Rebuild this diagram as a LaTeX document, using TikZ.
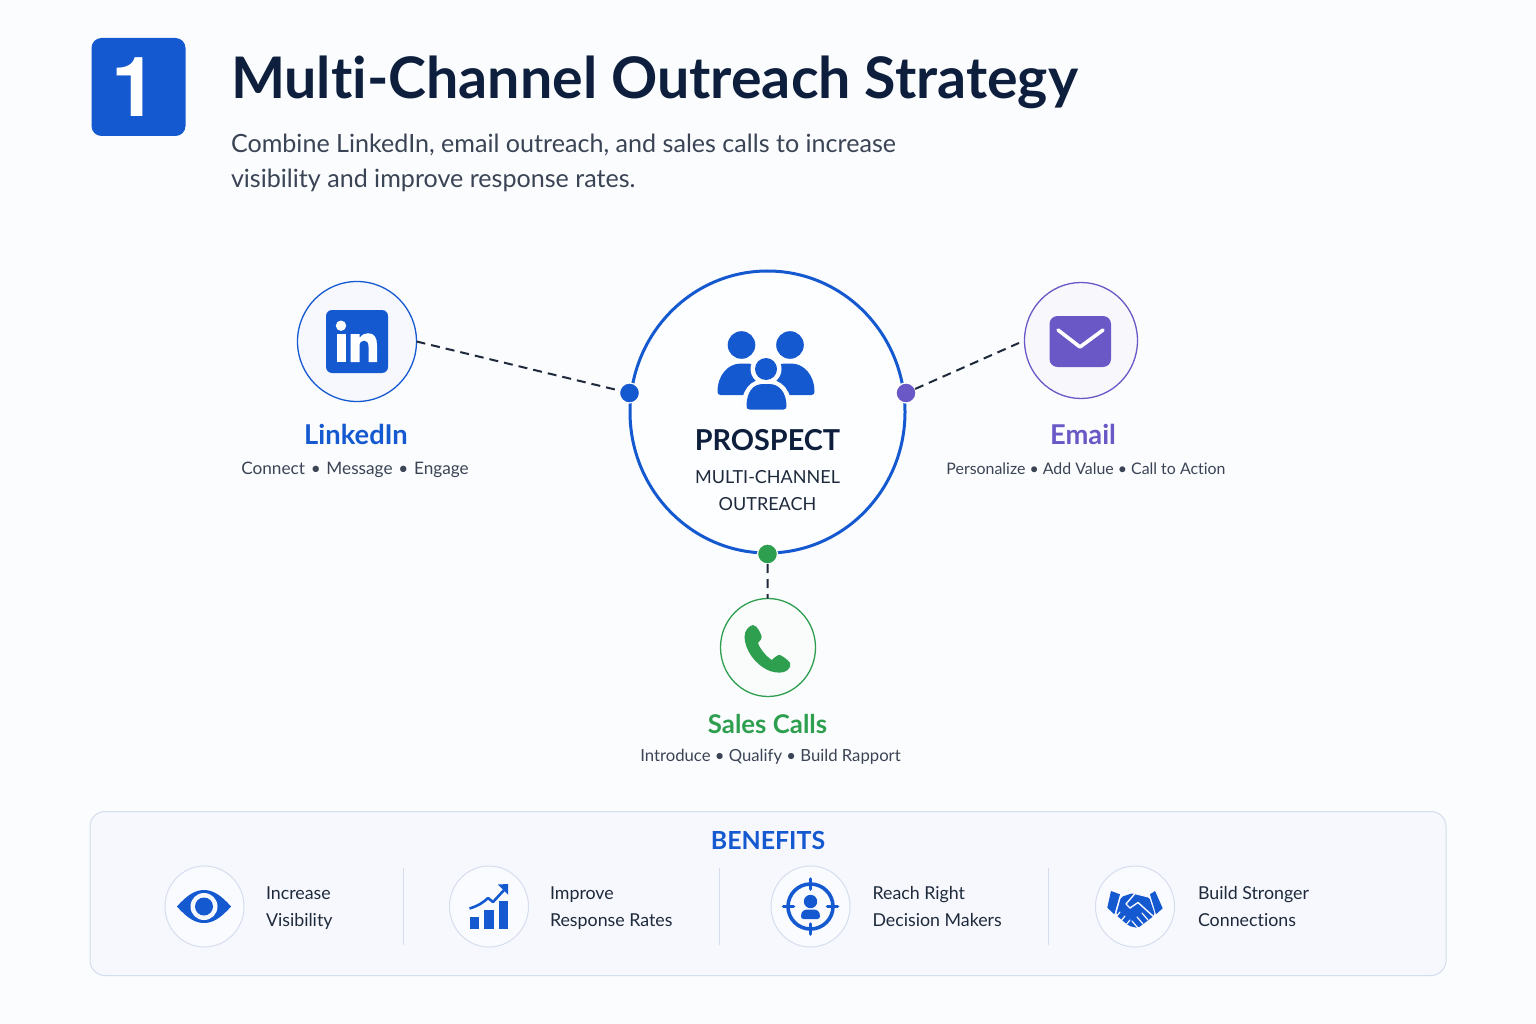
\documentclass[tikz,border=0pt]{standalone}
\usepackage{fontspec}
\setmainfont[Ligatures={NoCommon,TeX}]{Lato}
\newfontfamily\onefont{TeX Gyre Heros}
\usetikzlibrary{calc,shapes.geometric}
\definecolor{bgc}{HTML}{FBFCFE}
\definecolor{navy}{HTML}{0D1F3C}
\definecolor{blu}{HTML}{1559D0}
\definecolor{pur}{HTML}{6A58C6}
\definecolor{grn}{HTML}{2E9E4F}
\definecolor{txt}{HTML}{3A4454}
\definecolor{txtd}{HTML}{1E2A3C}
\definecolor{panelb}{HTML}{D3DDEC}
\definecolor{panelf}{HTML}{F6F8FD}
\definecolor{ringb}{HTML}{D5DDEE}
\tikzset{
  x=1pt,y=-1pt,
  txtnode/.style={inner sep=0pt,outer sep=0pt,anchor=base},
  ring/.style={ellipse,inner sep=0pt,outer sep=0pt,line width=1.3pt},
  smallring/.style={ellipse,draw=ringb,fill=panelf!60!white,line width=1pt,inner sep=0pt,outer sep=0pt,minimum width=79pt,minimum height=81pt},
  hub/.style={circle,inner sep=0pt,outer sep=0pt,minimum size=20pt,draw=white,line width=1.2pt},
  link/.style={line width=2pt,draw=txtd,dash pattern=on 9pt off 6pt},
  title/.style={txtnode,anchor=base west,text=navy,font=\fontsize{57.3}{64}\selectfont\bfseries},
  sub/.style={txtnode,anchor=base west,text=txt,font=\fontsize{25.1}{30}\selectfont},
  chan/.style={txtnode,font=\fontsize{27.3}{30}\selectfont\bfseries},
  tag/.style={txtnode,text=txt,font=\fontsize{16.7}{20}\selectfont},
  ben/.style={txtnode,anchor=base west,text=txtd,font=\fontsize{17.8}{22}\selectfont},
  mid/.style={txtnode,text=txtd,font=\fontsize{18}{24}\selectfont},
  sep/.style={draw=ringb,line width=1pt},
}
\begin{document}
\begin{tikzpicture}
\useasboundingbox (0,0) rectangle (1536,1024);
\fill[bgc] (0,0) rectangle (1536,1024);
% header
\fill[blu,rounded corners=10pt] (91.5,38) rectangle (185.5,136);
\node[txtnode,text=white,font=\onefont\fontsize{83}{86}\selectfont\bfseries] (badge) at (135,117) {1};
\node[title] (ttl) at (231,99) {Multi-Channel Outreach Strategy};
\node[sub] (s1) at (231,153) {Combine LinkedIn, email outreach, and sales calls to increase};
\node[sub] (s2) at (231,187.5) {visibility and improve response rates.};
% central
\node[ring,draw=blu,fill=white!50!bgc,line width=3pt,minimum width=275pt,minimum height=282pt] (hubc) at (767.5,412) {};
\node[ring,draw=blu,fill=blu!4!white,minimum width=119pt,minimum height=120pt] (li) at (357,341.5) {};
\node[ring,draw=pur,fill=pur!5!white,minimum width=113pt,minimum height=116pt] (em) at (1081,340.5) {};
\node[ring,draw=grn,fill=grn!3!white,minimum width=95pt,minimum height=98pt] (sc) at (768,647.5) {};
\node[hub,fill=blu] (d1) at (629.5,393) {};
\node[hub,fill=pur] (d2) at (906,393) {};
\node[hub,fill=grn] (d3) at (767.5,554) {};
\draw[link] (li.east) -- (d1);
\draw[link,shorten >=6pt] (d2) -- (em.west);
\draw[link] (d3) -- (sc);
% linkedin icon
\fill[blu,rounded corners=6pt] (326,310) rectangle (388,373);
\fill[white] (341,325.7) circle (5.2);
\fill[white] (336.7,334) rectangle (345.7,362);
\fill[white] (350.7,334) -- (359.5,334) -- (359.5,338) .. controls (362,334.5) and (365,333.2) .. (368,333.2) .. controls (374.5,333.2) and (377,338) .. (377,345) -- (377,362) -- (368.5,362) -- (368.5,346.5) .. controls (368.5,342.5) and (367,340.5) .. (364,340.5) .. controls (361,340.5) and (359.5,342.5) .. (359.5,346.5) -- (359.5,362) -- (350.7,362) -- cycle;
% email icon
\fill[pur,rounded corners=8pt] (1049.5,316) rectangle (1111,367);
\draw[white,line width=3.6pt,line cap=round,line join=round] (1058,330) -- (1080,347) -- (1103,330);
% people icon
\fill[blu] (741.5,345) circle (13.8);
\fill[blu] (790,345) circle (13.8);
\fill[blu,rounded corners=3pt] (717.5,395) .. controls (717.5,375) and (728,363.5) .. (744,363.5) .. controls (760,363.5) and (765,375) .. (765,395) -- cycle;
\fill[blu,rounded corners=3pt] (766,395) .. controls (766,375) and (772,363.5) .. (788,363.5) .. controls (804,363.5) and (814.5,375) .. (814.5,395) -- cycle;
\fill[white!50!bgc] (766,369) circle (15.5);
\fill[white!50!bgc] (741,411) .. controls (741,390) and (750,379) .. (766,379) .. controls (782,379) and (792,390) .. (792,411) -- cycle;
\fill[blu] (766,369) circle (11);
\fill[blu,rounded corners=3pt] (746.5,409.5) .. controls (746.5,392) and (753,384) .. (766,384) .. controls (779,384) and (786.5,392) .. (786.5,409.5) -- cycle;
% phone icon
\fill[grn,line join=round] (753,625) .. controls (749,626) and (744.5,630) .. (744.5,637) .. controls (745,650) and (755,665) .. (770,671) .. controls (776,673) and (783,673.5) .. (787,670.5) .. controls (790,668) and (791,665) .. (790,663) .. controls (788,660) and (784,657) .. (780,655) .. controls (778,654.5) and (775,657) .. (771.7,660) .. controls (766,656) and (760,649) .. (758,643) .. controls (760,641) and (762,638.5) .. (761.7,636.7) .. controls (760,631) and (757,626) .. (753,625) -- cycle;
% labels
\node[chan,text=blu] (lil) at (356,444) {LinkedIn};
\node[tag,font=\fontsize{17.2}{20}\selectfont] (lit) at (355,474) {Connect\,\,•\,\,Message\,\,•\,\,Engage};
\node[chan,text=pur] (eml) at (1083,444) {Email};
\node[tag,font=\fontsize{15.9}{20}\selectfont] (emt) at (1086,474) {Personalize • Add Value • Call to Action};
\node[chan,text=grn,font=\fontsize{25.8}{30}\selectfont\bfseries] (scl) at (767.5,733) {Sales Calls};
\node[tag] (sct) at (770.5,761) {Introduce • Qualify • Build Rapport};
\node[txtnode,text=navy,font=\fontsize{28.8}{34}\selectfont\bfseries] (pr) at (767.5,450) {PROSPECT};
\node[mid] (m1) at (767.5,483) {MULTI-CHANNEL};
\node[mid] (m2) at (767.5,510) {OUTREACH};
% benefits panel
\node[inner sep=0pt,outer sep=0pt,draw=panelb,fill=panelf,line width=1pt,rounded corners=15pt,minimum width=1356pt,minimum height=164pt] (panel) at (768,893.5) {};
\node[txtnode,text=blu,font=\fontsize{24.9}{28}\selectfont\bfseries] (bt) at (768,849) {BENEFITS};
\node[smallring] (b1) at (204.5,906.5) {};
\node[smallring] (b2) at (489,906.5) {};
\node[smallring] (b3) at (810.5,906.5) {};
\node[smallring] (b4) at (1135,906.5) {};
\node[ben] (b1a) at (266,899.5) {Increase};
\node[ben] (b1b) at (266,926.5) {Visibility};
\node[ben] (b2a) at (550,899.5) {Improve};
\node[ben] (b2b) at (550,926.5) {Response Rates};
\node[ben] (b3a) at (872.5,899.5) {Reach Right};
\node[ben] (b3b) at (872.5,926.5) {Decision Makers};
\node[ben] (b4a) at (1198,899.5) {Build Stronger};
\node[ben] (b4b) at (1198,926.5) {Connections};
\draw[sep] (403.5,868) -- (403.5,945);
\draw[sep] (719.5,868) -- (719.5,945);
\draw[sep] (1048.5,868) -- (1048.5,945);
% eye
\fill[blu] (177,906.5) .. controls (188,894) and (196,890) .. (204,890) .. controls (212,890) and (220,894) .. (231,906.5) .. controls (220,919) and (212,923) .. (204,923) .. controls (196,923) and (188,919) .. (177,906.5) -- cycle;
\fill[panelf] (204,906.5) circle (13.5);
\fill[blu] (204,906.5) circle (9);
% chart
\fill[blu] (469.5,916.5) rectangle (479,929);
\fill[blu] (484,910) rectangle (493.5,929);
\fill[blu] (498.5,900.5) rectangle (508,929);
\draw[blu,line width=2.6pt,line join=round] (469.5,908.5) .. controls (478,906) and (484,902) .. (488,898) -- (493,902) -- (505,889);
\fill[blu] (498,884.5) -- (508,884) -- (508,894.5) -- cycle;
% target
\draw[blu,line width=3.6pt] (810.5,906.5) circle (22.5);
\foreach \a/\b/\c/\d in {810.5/879/810.5/889, 810.5/924/810.5/934, 783.5/906.5/793.5/906.5, 827.5/906.5/837.5/906.5}
  \draw[blu,line width=3.6pt,line cap=round] (\a,\b) -- (\c,\d);
\fill[blu] (810.5,901.5) circle (6.7);
\fill[blu,rounded corners=2.5pt] (801,919) .. controls (801,911) and (804,909.5) .. (810.5,909.5) .. controls (817,909.5) and (820,911) .. (820,919) -- cycle;
% handshake
\fill[blu] (1111,891) -- (1120,894.3) -- (1114.3,914.3) -- (1107.3,907.7) -- cycle;
\fill[blu] (1155,891) -- (1162.7,908.3) -- (1156,914.3) -- (1150,894.3) -- cycle;
\fill[blu,rounded corners=2pt] (1121,897) -- (1133,893) -- (1149,897) -- (1155,915) -- (1138,928) -- (1129,926) -- (1116,915) -- cycle;
\draw[panelf,line width=1.4pt,line join=round,line cap=round] (1149,897) -- (1135,893.5) -- (1126,904) -- (1130,908) -- (1138,902.5) -- (1154,917);
\draw[panelf,line width=1.2pt,line cap=round] (1138,928) -- (1132,921) (1143,924) -- (1137,917) (1148,920) -- (1142,913);
\draw[panelf,line width=1.2pt,line cap=round] (1120,912) -- (1116,917) (1125,916) -- (1121,921) (1130,920) -- (1126,925);
\end{tikzpicture}
\end{document}
